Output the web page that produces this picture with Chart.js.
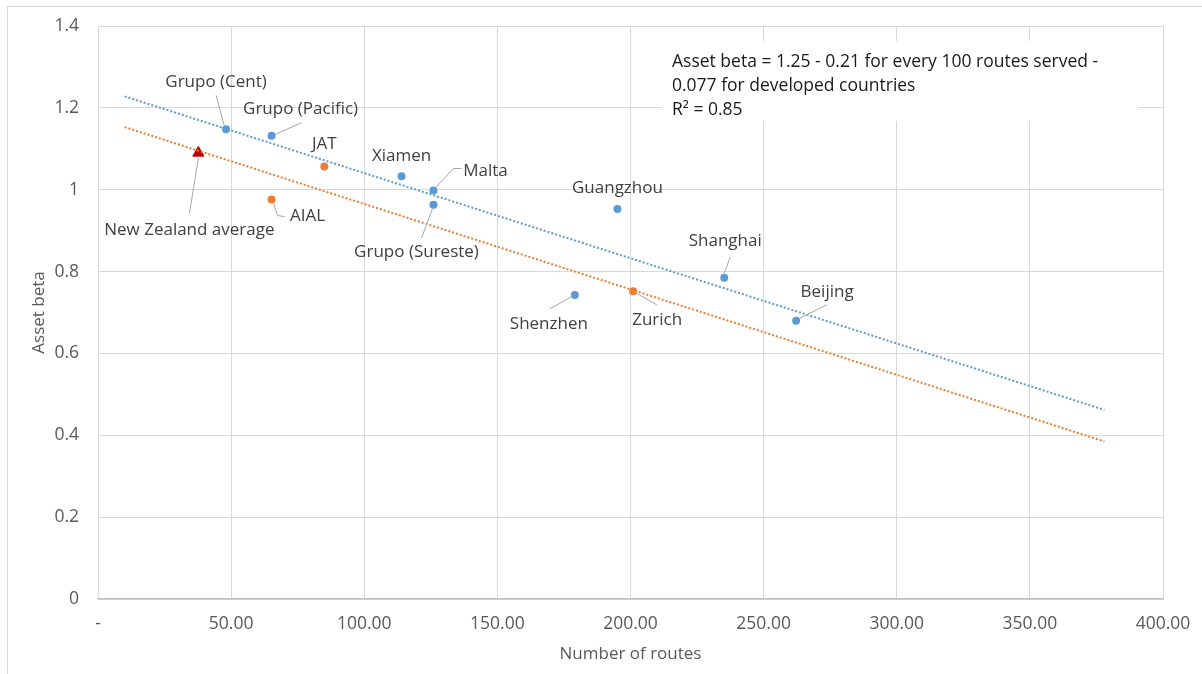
<!DOCTYPE html>
<html>
<head>
<meta charset="utf-8">
<script src="https://cdn.jsdelivr.net/npm/chart.js@4.4.0/dist/chart.umd.min.js"></script>
<style>
  html, body { margin: 0; padding: 0; background: #fff; }
  #wrap { width: 1202px; height: 674px; position: relative; }
</style>
</head>
<body>
<div id="wrap"><canvas id="chart" width="1202" height="674"></canvas></div>
<script>
// airports without the developed-country discount (blue)
var blueNames = ["Grupo (Cent)", "Grupo (Pacific)", "Xiamen", "Malta", "Grupo (Sureste)", "Guangzhou", "Shanghai", "Shenzhen", "Beijing"];
var blueRoutes = [48.1, 65.2, 114.0, 126.0, 126.0, 195.1, 235.2, 179.1, 262.2];
var blueBeta = [1.148, 1.132, 1.033, 0.998, 0.963, 0.953, 0.785, 0.743, 0.680];

// developed countries (orange)
var orangeNames = ["JAT", "AIAL", "Zurich"];
var orangeRoutes = [85.0, 65.2, 201.0];
var orangeBeta = [1.057, 0.976, 0.752];

var nzNames = ["New Zealand average"];
var nzRoutes = [37.7];
var nzBeta = [1.090];

// trendline end points
var trendRoutes = [10, 378];
var blueTrend = [1.228, 0.462];
var orangeTrend = [1.153, 0.385];

var yTicks = [0, 0.2, 0.4, 0.6, 0.8, 1, 1.2, 1.4];
var xTicks = [0, 50, 100, 150, 200, 250, 300, 350, 400];

var noteLines = ["Asset beta = 1.25 - 0.21 for every 100 routes served -", "0.077 for developed countries", "R\u00b2 = 0.85"];

// label placement, pixel offsets from the point
var labelLayout = {
  "Grupo (Cent)": { dx: -10, dy: -47, leader: [[-10, -34], [-2, -4]] },
  "Grupo (Pacific)": { dx: 29, dy: -27, leader: [[30, -13], [3, -1]] },
  "JAT": { dx: 0, dy: -22 },
  "Xiamen": { dx: 0, dy: -20 },
  "Malta": { dx: 52, dy: -19, leader: [[28, -22], [20, -22], [3, -4]] },
  "Guangzhou": { dx: 0, dy: -21 },
  "Grupo (Sureste)": { dx: -17, dy: 47, leader: [[-12, 33], [-1, 4]] },
  "AIAL": { dx: 36, dy: 17, leader: [[13, 17], [6, 16], [2, 4]] },
  "New Zealand average": { dx: -9, dy: 77, leader: [[-9, 61], [0, 5]] },
  "Shanghai": { dx: 1, dy: -37, leader: [[6, -21], [0, -4]] },
  "Shenzhen": { dx: -26, dy: 29, leader: [[-25, 14], [-2, 1]] },
  "Zurich": { dx: 24, dy: 29, leader: [[24, 14], [2, 1]] },
  "Beijing": { dx: 31, dy: -29, leader: [[31, -16], [3, -2]] }
};

var FONT = "'Open Sans', sans-serif";

function pts(xs, ys) {
  return xs.map(function (x, i) { return { x: x, y: ys[i] }; });
}

var pointLabels = {
  id: "pointLabels",
  afterDatasetsDraw: function (chart) {
    var ctx = chart.ctx;
    ctx.save();
    chart.data.datasets.forEach(function (ds, i) {
      if (!ds.names) return;
      var meta = chart.getDatasetMeta(i);
      meta.data.forEach(function (pt, j) {
        var name = ds.names[j];
        var lay = labelLayout[name];
        if (!lay) return;
        if (lay.leader) {
          ctx.strokeStyle = "#a6a6a6";
          ctx.lineWidth = 1;
          ctx.beginPath();
          lay.leader.forEach(function (p, k) {
            if (k === 0) ctx.moveTo(pt.x + p[0], pt.y + p[1]);
            else ctx.lineTo(pt.x + p[0], pt.y + p[1]);
          });
          ctx.stroke();
        }
        ctx.fillStyle = "#404040";
        ctx.font = "17px " + FONT;
        ctx.textAlign = "center";
        ctx.textBaseline = "middle";
        ctx.fillText(name, pt.x + lay.dx, pt.y + lay.dy);
      });
    });
    ctx.restore();
  }
};

var frameAndNote = {
  id: "frameAndNote",
  afterDraw: function (chart) {
    var ctx = chart.ctx;
    var a = chart.chartArea;
    ctx.save();
    // outer chart frame
    ctx.strokeStyle = "#d9d9d9";
    ctx.lineWidth = 1;
    ctx.beginPath();
    ctx.moveTo(7.5, 674);
    ctx.lineTo(7.5, 6.5);
    ctx.lineTo(1202, 6.5);
    ctx.stroke();
    // regression note box
    var bx = a.left + 564, by = a.top + 15;
    ctx.fillStyle = "#fff";
    ctx.fillRect(bx, by, 476, 80);
    ctx.fillStyle = "#1a1a1a";
    ctx.font = "17.5px " + FONT;
    ctx.textAlign = "left";
    ctx.textBaseline = "middle";
    noteLines.forEach(function (t, i) {
      ctx.fillText(t, bx + 10, by + 21 + i * 24);
    });
    ctx.restore();
  }
};

var ctx = document.getElementById("chart").getContext("2d");
new Chart(ctx, {
  type: "scatter",
  data: {
    datasets: [
      {
        label: "Trend",
        data: pts(trendRoutes, blueTrend),
        showLine: true,
        borderColor: "#5B9BD5",
        borderWidth: 2,
        borderDash: [2, 2],
        pointRadius: 0,
        fill: false
      },
      {
        label: "Trend developed",
        data: pts(trendRoutes, orangeTrend),
        showLine: true,
        borderColor: "#ED7D31",
        borderWidth: 2,
        borderDash: [2, 2],
        pointRadius: 0,
        fill: false
      },
      {
        label: "Airports",
        names: blueNames,
        data: pts(blueRoutes, blueBeta),
        backgroundColor: "#5B9BD5",
        borderWidth: 0,
        pointRadius: 4
      },
      {
        label: "Developed",
        names: orangeNames,
        data: pts(orangeRoutes, orangeBeta),
        backgroundColor: "#ED7D31",
        borderWidth: 0,
        pointRadius: 4
      },
      {
        label: "NZ",
        names: nzNames,
        data: pts(nzRoutes, nzBeta),
        backgroundColor: "#C00000",
        borderColor: "#C00000",
        borderWidth: 1,
        pointStyle: "triangle",
        pointRadius: 6.5
      }
    ]
  },
  options: {
    responsive: false,
    animation: false,
    layout: { padding: { left: 8, top: 26, right: 39, bottom: 0 } },
    plugins: {
      legend: { display: false },
      tooltip: { enabled: false }
    },
    scales: {
      x: {
        type: "linear",
        min: 0,
        max: 400,
        afterBuildTicks: function (s) { s.ticks = xTicks.map(function (v) { return { value: v }; }); },
        afterFit: function (s) {
          s.height = 75;
          s.paddingLeft = 0;
          s.paddingRight = 0;
        },
        grid: { color: "#d9d9d9", drawTicks: false },
        border: { color: "#bfbfbf", width: 1.5 },
        ticks: {
          padding: 15,
          color: "#595959",
          font: { family: FONT, size: 17.5 },
          maxRotation: 0,
          callback: function (v) { return v === 0 ? "-" : v.toFixed(2); }
        },
        title: {
          display: true,
          text: "Number of routes",
          color: "#595959",
          font: { family: FONT, size: 17 },
          padding: { top: 0, bottom: 10 }
        }
      },
      y: {
        type: "linear",
        min: 0,
        max: 1.4,
        afterBuildTicks: function (s) { s.ticks = yTicks.map(function (v) { return { value: v }; }); },
        afterFit: function (s) {
          s.width = 90;
          s.paddingTop = 0;
          s.paddingBottom = 0;
        },
        grid: { color: "#d9d9d9", drawTicks: false },
        border: { color: "#d9d9d9" },
        ticks: {
          padding: 19,
          color: "#595959",
          font: { family: FONT, size: 17.5 },
          callback: function (v) { return String(Math.round(v * 10) / 10); }
        },
        title: {
          display: true,
          text: "Asset beta",
          color: "#595959",
          font: { family: FONT, size: 17 },
          padding: { top: 21, bottom: 0 }
        }
      }
    }
  },
  plugins: [pointLabels, frameAndNote]
});
</script>
</body>
</html>
